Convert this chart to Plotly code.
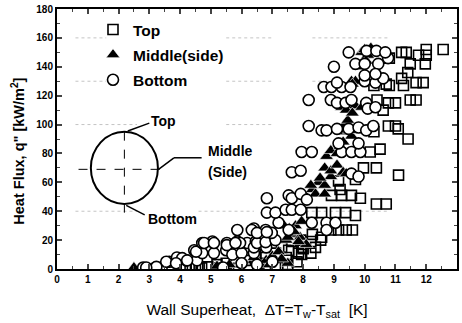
import plotly.graph_objects as go

# ---- data ----
top_x = [4.0, 4.2, 4.5, 4.9, 5.2, 5.5, 5.75, 6.1, 6.45, 6.56, 7.1, 6.8, 6.2, 5.9, 5.3, 4.7,
         4.4, 4.62, 5.82, 6.13, 6.46, 6.78, 7.1, 7.53, 7.85, 7.96,
         7.1, 7.45, 7.95, 8.25, 7.8, 7.5,
         7.63, 7.92, 8.25, 8.57, 8.0, 8.4, 7.3,
         8.9, 9.15, 9.4, 9.6, 8.3, 8.6,
         8.28, 8.6, 9.05, 9.38, 9.7,
         8.92, 9.25, 9.57, 9.86, 10.38, 10.7, 9.2,
         9.15, 9.96, 10.38, 11.1, 9.7,
         10.18, 10.5,
         10.77, 11.0, 11.09, 11.41, 10.3,
         10.4, 10.77, 11.0, 11.48, 11.67, 10.6,
         10.3, 10.7, 10.8, 11.2, 11.26, 11.67, 11.9,
         11.4, 11.48, 11.97, 11.75, 12.0, 12.0, 11.2, 11.35, 12.55, 10.8]
top_y = [0.5, 0.5, 1, 1.5, 3, 4, 5, 8, 10, 4, 1.5, 1, 1, 0.5, 0.8, 0.8,
         1, 1, 5, 6, 8, 8, 11, 13, 11, 15,
         8, 8, 10, 11, 5, 3,
         19, 20, 19, 20, 14, 15, 15,
         27, 27, 27, 27, 24, 22,
         39, 39, 39, 39, 37,
         51, 51, 51, 49, 45, 45, 55,
         61, 70, 70, 65, 62,
         81, 83,
         99, 99, 97, 90, 95,
         117, 115, 115, 117, 117, 110,
         127, 128, 127, 132, 127, 129, 129,
         136, 142, 142, 148, 148, 152, 150, 150, 152, 146]

mid_x = [2.5, 5.2, 5.6, 6.0, 6.4, 6.8, 7.0, 7.2, 7.5, 6.9, 7.3,
         7.45, 7.6, 7.75, 7.9, 7.95, 7.55, 8.1, 7.38, 7.7, 7.85, 7.5,
         8.1, 8.3, 8.5, 8.7, 8.9, 8.4, 8.7, 8.25, 8.55,
         8.7, 8.9, 9.1, 9.3, 9.4,
         8.76, 8.9, 9.1, 9.2,
         9.25, 9.35, 9.45, 9.57, 9.3, 9.5,
         9.25, 9.5, 9.7, 9.9, 9.4, 9.6,
         9.57, 9.7, 9.6,
         9.8, 10.0, 9.9, 10.0, 10.2, 10.1, 10.05]
mid_y = [1, 2, 3, 6, 8, 6, 9, 12, 4, 3, 7,
         20, 25, 30, 22, 33, 28, 17, 30, 26, 19, 22,
         50, 55, 60, 58, 64, 52, 52, 58, 63,
         70, 68, 72, 67, 66,
         78, 82, 80, 85,
         95, 100, 103, 92, 88, 96,
         112, 115, 113, 112, 110, 108,
         130, 130, 128,
         140, 145, 150, 152, 153, 148, 144]

bot_x = [2.8, 3.2, 3.4, 3.65, 3.9, 4.2, 4.55, 4.46, 4.72, 5.1, 5.5, 5.82,
         4.07, 4.23, 3.55, 3.87, 3.23, 2.9, 4.52, 5.7, 6.0, 6.4,
         4.72, 5.05, 5.52, 5.86, 6.18, 6.46, 5.95, 6.4, 6.8,
         4.78, 5.1, 5.52, 5.8, 6.5, 6.78, 7.1,
         5.86, 6.4, 6.78, 6.98, 7.2, 7.53, 6.0, 6.5, 7.0, 5.4,
         6.33, 6.5, 6.82,
         6.82, 7.1, 7.43, 7.63, 7.92,
         6.82, 7.53, 7.63, 7.92, 8.12,
         8.28, 8.76, 8.76, 9.05,
         7.63, 7.92, 9.57, 9.8,
         7.95, 8.28, 9.25, 9.57, 9.86,
         9.15, 9.8,
         8.18, 8.6, 8.76, 9.1, 9.48, 9.8, 10.05, 10.28,
         8.18, 8.9, 9.1, 9.38, 9.57, 10.05, 10.1, 10.35,
         8.67, 8.92, 9.25, 9.54, 9.1, 10.0, 10.35, 10.6,
         9.0, 9.7, 10.0, 10.44, 10.76, 10.0, 10.35,
         9.48, 10.06, 10.38, 10.67]
bot_y = [1, 1, 1, 5, 8, 6, 6, 13, 11, 11, 13, 12,
         7.5, 6, 5, 4, 1.5, 1, 12, 10, 11, 11,
         18, 19, 18, 19, 18, 19, 18, 15, 15,
         18, 18, 16.5, 18, 18, 18.6, 20,
         27, 28, 27, 25, 32, 27, 4, 3, 5, 1,
         27, 25, 25.5,
         39, 39, 41, 41, 41,
         49, 51, 49, 52, 48,
         32, 32, 27, 32,
         67, 68, 66, 64,
         81, 81, 81, 81, 81,
         87, 87,
         99, 96, 96, 97, 97, 98, 96, 99,
         117, 117, 115, 115, 117, 115, 111, 112,
         126, 126, 126, 126, 129, 130, 129, 132,
         140, 142, 142, 142, 146, 134, 135,
         150, 151, 151, 150]

x_ticks = list(range(0, 14))
y_ticks = list(range(0, 181, 20))
# faint dotted scan lines: (y, x-start, x-end)
faint_segments = [(160, 0.6, 1.6), (160, 5.5, 7.0), (160, 8.3, 10.8),
                  (130, 0.6, 1.6), (130, 5.5, 7.0), (130, 8.3, 8.9),
                  (100, 0.6, 2.6), (100, 5.5, 7.0),
                  (40, 0.6, 2.6), (40, 4.6, 6.4), (40, 7.5, 10.8)]

# ---- figure ----
fig = go.Figure()
fig.add_trace(go.Scatter(x=top_x, y=top_y, mode="markers", name="Top", legendgroup="t",
                         marker=dict(symbol="square-open", color="black", size=10,
                                     line=dict(width=1.6))))
fig.add_trace(go.Scatter(x=mid_x, y=mid_y, mode="markers", name="Middle(side)",
                         legendgroup="m",
                         marker=dict(symbol="triangle-up", color="black", size=12,
                                     line=dict(color="white", width=0.6))))
fig.add_trace(go.Scatter(x=bot_x, y=bot_y, mode="markers", name="Bottom", legendgroup="b",
                         marker=dict(symbol="circle", color="white", size=11,
                                     line=dict(color="black", width=1.6))))

shapes = []
for yy, xa, xb in faint_segments:
    shapes.append(dict(type="line", xref="x", yref="y", x0=xa, x1=xb, y0=yy, y1=yy,
                       line=dict(color="#c4c4c4", width=1, dash="dot"), layer="below"))
# tube cross-section diagram
shapes.append(dict(type="circle", xref="x", yref="y", x0=1.1, x1=3.28, y0=45, y1=95,
                   line=dict(color="black", width=2)))
shapes.append(dict(type="line", xref="x", yref="y", x0=2.19, x1=2.19, y0=39, y1=99,
                   line=dict(color="black", width=1, dash="dash")))
shapes.append(dict(type="line", xref="x", yref="y", x0=0.7, x1=3.6, y0=69, y1=69,
                   line=dict(color="black", width=1, dash="dash")))
# leader lines from labels to the circle
leaders = [(3.0, 101, 2.3, 95.5), (4.7, 77, 3.8, 77), (3.8, 77, 3.3, 69),
           (2.85, 37.5, 2.25, 44)]
for xa, ya, xb, yb in leaders:
    shapes.append(dict(type="line", xref="x", yref="y", x0=xa, y0=ya, x1=xb, y1=yb,
                       line=dict(color="black", width=1.5)))

font_b = dict(family="Liberation Sans, Arial", size=14, color="black", weight="bold")
annotations = [
    dict(x=3.0, y=102.5, xref="x", yref="y", text="Top", showarrow=False, xanchor="left",
         font=font_b),
    dict(x=4.85, y=82, xref="x", yref="y", text="Middle", showarrow=False, xanchor="left",
         font=font_b),
    dict(x=4.85, y=67.5, xref="x", yref="y", text="(Side)", showarrow=False, xanchor="left",
         font=font_b),
    dict(x=2.9, y=34.5, xref="x", yref="y", text="Bottom", showarrow=False, xanchor="left",
         font=font_b),
    dict(x=-0.097, y=0.452, xref="paper", yref="paper", text="Heat Flux, q\" [kW/m<sup>2</sup>]",
         showarrow=False, textangle=-90, xanchor="center", yanchor="middle",
         font=dict(family="Liberation Sans, Arial", size=14.5, color="black", weight="bold")),
]

tickfont = dict(family="Liberation Sans, Arial", size=10, color="black", weight="bold")
fig.update_layout(
    width=462, height=323,
    margin=dict(l=57, r=3, t=8, b=54),
    paper_bgcolor="white", plot_bgcolor="white",
    shapes=shapes, annotations=annotations,
    showlegend=True,
    legend=dict(x=0.09, y=0.985, xanchor="left", yanchor="top",
                bgcolor="rgba(0,0,0,0)", font=dict(family="Liberation Sans, Arial", size=15.5,
                                                    color="black", weight="bold"),
                itemwidth=30, tracegroupgap=2),
    xaxis=dict(range=[0, 13], tickvals=x_ticks, ticks="inside", ticklen=5, tickwidth=1.5,
               showline=True, linecolor="black", linewidth=2, mirror="allticks",
               showgrid=False, zeroline=False, tickfont=tickfont,
               minor=dict(ticks="inside", dtick=0.5, ticklen=3, tickwidth=1),
               title=dict(text="Wall Superheat,  ΔT=T<sub>w</sub>-T<sub>sat</sub>  [K]",
                          font=dict(family="Liberation Sans, Arial", size=15.5, color="black"),
                          standoff=20)),
    yaxis=dict(range=[0, 180], tickvals=y_ticks, ticks="inside", ticklen=5, tickwidth=1.5,
               showline=True, linecolor="black", linewidth=2, mirror="allticks",
               showgrid=False, zeroline=False, tickfont=tickfont,
               minor=dict(ticks="inside", dtick=10, ticklen=3, tickwidth=1)),
)

fig.write_html("out.html")
